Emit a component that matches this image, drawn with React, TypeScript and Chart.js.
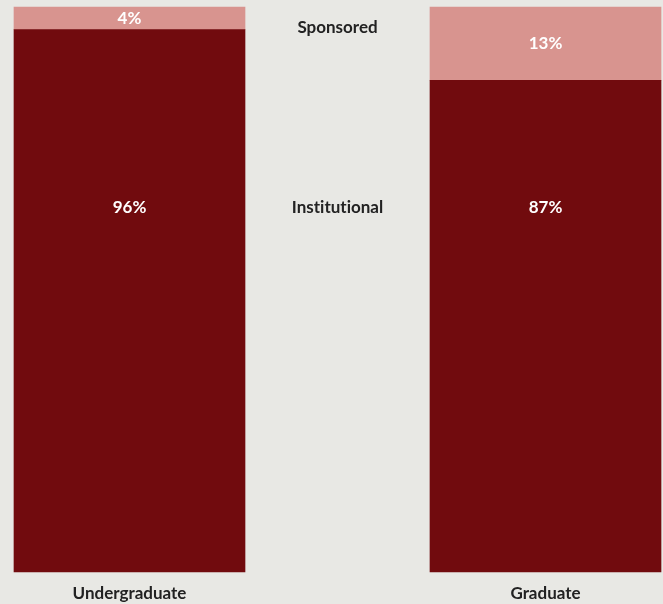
import React, { useEffect, useRef } from "react";
import { Chart, registerables } from "chart.js";

Chart.register(...registerables);

const categories = ["Undergraduate", "", "Graduate"];
const institutional = [96, null, 87];
const sponsored = [4, null, 13];
const seriesNames = ["Institutional", "Sponsored"];

const DARK = "#710b0e";
const LIGHT = "#d8948f";
const BG = "#e8e8e4";
const TEXT = "#222222";
const FONT = "Lato, 'Open Sans', sans-serif";

const noLig = (s: string) => s.replace(/ti/g, "t\u200Ci").replace(/f/g, "f\u200C");

const labelPlugin = {
  id: "segmentLabels",
  afterDatasetsDraw(chart: any) {
    const { ctx, chartArea, scales } = chart;
    const x = scales.x;
    ctx.save();
    ctx.textAlign = "center";
    ctx.textBaseline = "middle";
    chart.data.datasets.forEach((ds: any, di: number) => {
      const meta = chart.getDatasetMeta(di);
      meta.data.forEach((el: any, i: number) => {
        const v = ds.data[i];
        if (v == null) return;
        const y = di === 0 ? chartArea.top + 201 : (el.y + el.base) / 2;
        ctx.fillStyle = "#ffffff";
        ctx.font = `bold 17px ${FONT}`;
        ctx.fillText(`${v}%`, el.x, y);
      });
    });
    const mx = x.getPixelForValue(1);
    ctx.fillStyle = TEXT;
    ctx.font = `bold 17px ${FONT}`;
    ctx.fillText(noLig(seriesNames[1]), mx, chartArea.top + 21);
    ctx.fillText(noLig(seriesNames[0]), mx, chartArea.top + 201);
    ctx.restore();
  },
};

export default function App() {
  const ref = useRef<HTMLCanvasElement>(null);
  useEffect(() => {
    if (!ref.current) return;
    const chart = new Chart(ref.current, {
      type: "bar",
      data: {
        labels: categories,
        datasets: [
          {
            label: seriesNames[0],
            data: institutional,
            backgroundColor: DARK,
            barThickness: 231,
            clip: false as any,
          },
          {
            label: seriesNames[1],
            data: sponsored,
            backgroundColor: LIGHT,
            barThickness: 231,
            clip: false as any,
          },
        ],
      },
      options: {
        animation: false,
        responsive: true,
        maintainAspectRatio: false,
        layout: { padding: { top: 7, left: 25.5, right: 13.5, bottom: 1 } },
        plugins: {
          legend: { display: false },
          tooltip: { enabled: false },
        },
        scales: {
          x: {
            stacked: true,
            grid: { display: false, drawTicks: false },
            border: { display: false },
            afterFit: (axis: any) => {
              axis.height = 31;
            },
            ticks: {
              padding: 11,
              color: TEXT,
              font: { family: FONT, size: 17, weight: "bold" },
            },
          },
          y: {
            stacked: true,
            display: false,
            min: 0,
            max: 100,
          },
        },
      },
      plugins: [labelPlugin],
    });
    return () => chart.destroy();
  }, []);
  return (
    <div
      style={{
        position: "fixed",
        left: 0,
        top: 0,
        width: 663,
        height: 604,
        background: BG,
      }}
    >
      <canvas ref={ref} />
    </div>
  );
}
